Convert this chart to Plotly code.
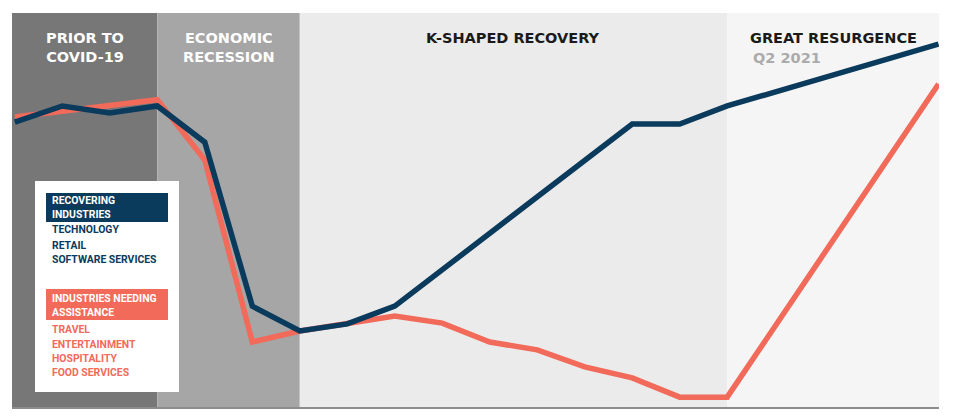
import plotly.graph_objects as go

# ---- data ----
x_idx = [0, 1, 2, 3, 4, 5, 6, 7, 8, 9, 10, 11, 12, 13, 14, 15, 19.45]
recovering = [72.3, 76.4, 74.6, 76.4, 67.2, 25.6, 19.3, 21.1, 25.6, 34.8, 43.9, 53.3, 62.4, 71.8, 71.8, 76.4, 92.1]
needing = [73.6, 75.1, 76.6, 78.0, 62.7, 16.5, 19.3, 21.1, 23.1, 21.3, 16.5, 14.5, 10.2, 7.4, 2.5, 2.5, 82.0]

phase_bounds = [-0.06, 3, 6, 15, 19.46]
phase_colors = ["#777777", "#a6a6a6", "#ebebeb", "#f5f5f5"]
phase_titles = ["PRIOR TO<br>COVID-19", "ECONOMIC<br>RECESSION", "K-SHAPED RECOVERY", "GREAT RESURGENCE"]
phase_title_colors = ["#ffffff", "#ffffff", "#1a1a1a", "#1a1a1a"]
subtitle = "Q2 2021"

rec_title = "RECOVERING<br>INDUSTRIES"
rec_items = ["TECHNOLOGY", "RETAIL", "SOFTWARE SERVICES"]
need_title = "INDUSTRIES NEEDING<br>ASSISTANCE"
need_items = ["TRAVEL", "ENTERTAINMENT", "HOSPITALITY", "FOOD SERVICES"]

NAVY = "#0a3a5c"
RED = "#f26a5a"

W, H = 960, 420
L, R, T, B = 12, 21, 13, 13
PW, PH = W - L - R, H - T - B


def px_x(p):
    return (p - L) / PW


def px_y(p):
    return (H - B - p) / PH


fig = go.Figure()
fig.add_trace(go.Scatter(x=x_idx, y=needing, mode="lines",
                         line=dict(color=RED, width=5.5), hoverinfo="skip"))
fig.add_trace(go.Scatter(x=x_idx, y=recovering, mode="lines",
                         line=dict(color=NAVY, width=5.5), hoverinfo="skip"))

shapes = []
for i, c in enumerate(phase_colors):
    shapes.append(dict(type="rect", xref="x", yref="paper", x0=phase_bounds[i], x1=phase_bounds[i + 1],
                       y0=0, y1=1, fillcolor=c, line=dict(width=0), layer="below"))

annotations = []
hfont = "DejaVu Sans"
for i, t in enumerate(phase_titles):
    cx = (phase_bounds[i] + phase_bounds[i + 1]) / 2
    two = "<br>" in t
    annotations.append(dict(x=cx, y=px_y(28) if two else px_y(37.5), xref="x", yref="paper", text=t,
                            showarrow=False, xanchor="center", yanchor="top" if two else "middle",
                            font=dict(family=hfont, size=14.5, color=phase_title_colors[i], weight="bold")))
annotations.append(dict(x=px_x(751), y=px_y(57.5), xref="paper", yref="paper", text=subtitle, showarrow=False,
                        xanchor="left", yanchor="middle",
                        font=dict(family=hfont, size=14.5, color="#ababab", weight="bold")))

# legend box
shapes.append(dict(type="rect", xref="paper", yref="paper", x0=px_x(35), x1=px_x(179),
                   y0=px_y(392), y1=px_y(181), fillcolor="#ffffff", line=dict(width=0)))
shapes.append(dict(type="rect", xref="paper", yref="paper", x0=px_x(46), x1=px_x(168),
                   y0=px_y(222), y1=px_y(193), fillcolor=NAVY, line=dict(width=0)))
shapes.append(dict(type="rect", xref="paper", yref="paper", x0=px_x(46), x1=px_x(168),
                   y0=px_y(320), y1=px_y(289), fillcolor=RED, line=dict(width=0)))

lfont = "Roboto, sans-serif"
LS = 10.4


def add_text(text, ypx, color):
    annotations.append(dict(x=px_x(50), y=px_y(ypx), xref="paper", yref="paper", text=text, showarrow=False,
                            xanchor="left", yanchor="middle", align="left",
                            font=dict(family=lfont, size=LS, color=color, weight="bold")))


add_text(rec_title, 207.5, "#ffffff")
for t, yp in zip(rec_items, [230, 245, 259]):
    add_text(t, yp, NAVY)
add_text(need_title, 305, "#ffffff")
for t, yp in zip(need_items, [329, 344, 358, 372]):
    add_text(t, yp, RED)

fig.update_layout(
    width=W, height=H, margin=dict(l=L, r=R, t=T, b=B),
    paper_bgcolor="#ffffff", plot_bgcolor="#ffffff",
    showlegend=False, shapes=shapes, annotations=annotations,
    xaxis=dict(range=[phase_bounds[0], phase_bounds[-1]], showgrid=False, zeroline=False,
               showticklabels=False, ticks="", showline=True, linecolor="#8c8c8c", linewidth=2),
    yaxis=dict(range=[0, 100], showgrid=False, zeroline=False, showticklabels=False, ticks="",
               showline=False),
)

fig.write_html("out.html")
